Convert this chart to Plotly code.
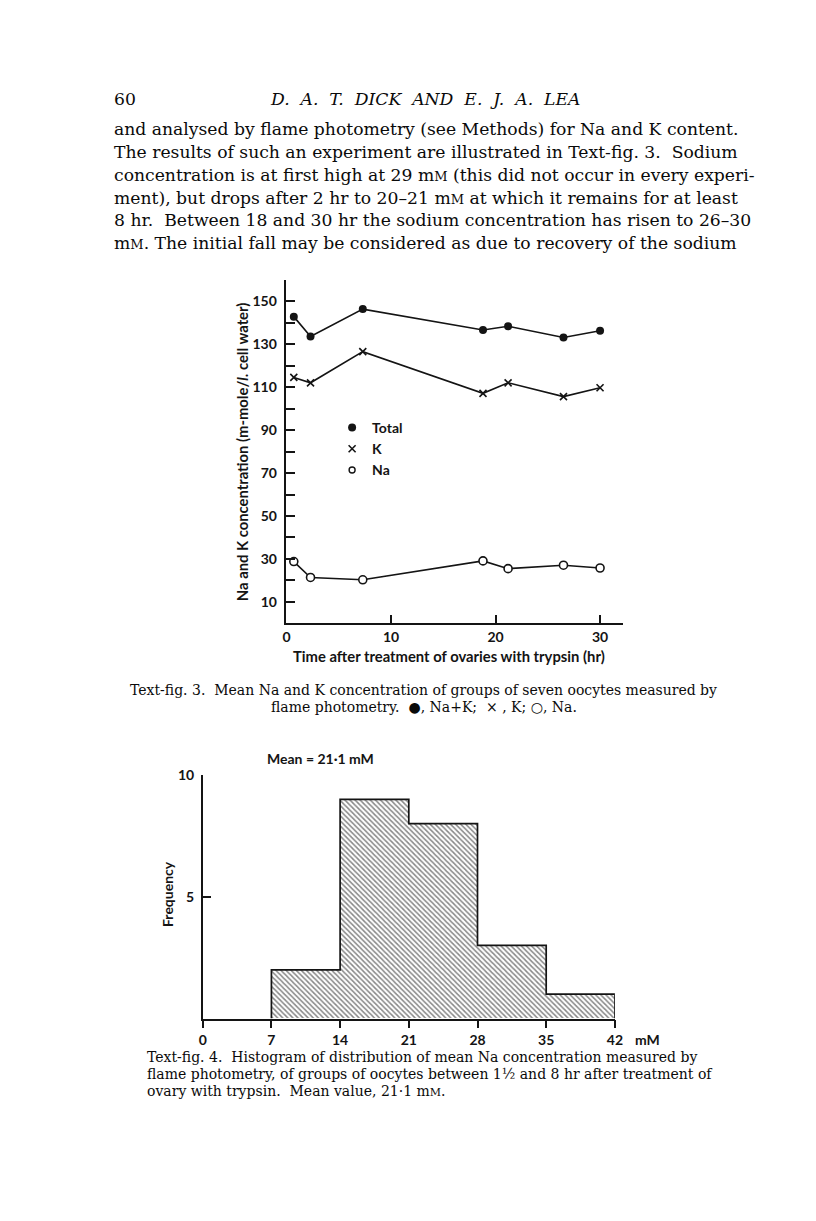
import plotly.graph_objects as go

# ---------------- data ----------------
time_hr = [0.7, 2.3, 7.3, 18.8, 21.2, 26.5, 30.0]
total_conc = [142.8, 133.6, 146.3, 136.6, 138.3, 133.1, 136.2]
k_conc = [114.5, 112.0, 126.5, 107.1, 112.0, 105.6, 109.7]
na_conc = [28.8, 21.4, 20.3, 29.1, 25.5, 27.1, 25.8]

bin_edges = [0, 7, 14, 21, 28, 35, 42]
bin_freq = [0, 2, 9, 8, 3, 1]

fig3_y_ticks = [10, 20, 30, 40, 50, 60, 70, 80, 90, 100, 110, 120, 130, 140, 150]
fig3_y_labels = ["10", "", "30", "", "50", "", "70", "", "90", "", "110", "", "130", "", "150"]
fig3_x_ticks = [0, 10, 20, 30]
fig4_y_ticks = [5, 10]

SC = "<span style='font-size:13px'>M</span>"
header_num = "60"
header_title = "D.  A.  T.  DICK  AND  E.  J.  A.  LEA"
body_lines = [
    "and analysed by flame photometry (see Methods) for Na and K content.",
    "The results of such an experiment are illustrated in Text-fig. 3.  Sodium",
    "concentration is at first high at 29 m" + SC + " (this did not occur in every experi-",
    "ment), but drops after 2 hr to 20\u201321 m" + SC + " at which it remains for at least",
    "8 hr.  Between 18 and 30 hr the sodium concentration has risen to 26\u201330",
    "m" + SC + ". The initial fall may be considered as due to recovery of the sodium",
]
cap3_lines = [
    "Text-fig. 3.  Mean Na and K concentration of groups of seven oocytes measured by",
    "flame photometry.  \u25CF, Na+K;  \u00D7 , K; \u25CB, Na.",
]
cap4_lines = [
    "Text-fig. 4.  Histogram of distribution of mean Na concentration measured by",
    "flame photometry, of groups of oocytes between 1\u00BD and 8 hr after treatment of",
    "ovary with trypsin.  Mean value, 21\u00B71 m<span style='font-size:11px'>M</span>.",
]

W, H = 816, 1221
INK = "#141414"
SANS = "Lato"
SERIF = "DejaVu Serif"


def px(x):
    return x / W


def py(y):
    return 1 - y / H


fig = go.Figure()

# ---------------- Text-fig. 3 ----------------
line_style = dict(color=INK, width=1.6)
fig.add_trace(go.Scatter(x=time_hr, y=total_conc, mode="lines+markers", line=line_style,
                         marker=dict(symbol="circle", size=8, color=INK),
                         showlegend=False, xaxis="x", yaxis="y", cliponaxis=False))
fig.add_trace(go.Scatter(x=time_hr, y=k_conc, mode="lines+markers", line=line_style,
                         marker=dict(symbol="x-thin", size=7, color=INK, line=dict(color=INK, width=1.6)),
                         showlegend=False, xaxis="x", yaxis="y", cliponaxis=False))
fig.add_trace(go.Scatter(x=time_hr, y=na_conc, mode="lines+markers", line=line_style,
                         marker=dict(symbol="circle", size=8, color="white", line=dict(color=INK, width=1.6)),
                         showlegend=False, xaxis="x", yaxis="y", cliponaxis=False))
# legend entries
fig.add_trace(go.Scatter(x=[None], y=[None], mode="markers", name="Total",
                         marker=dict(symbol="circle", size=8, color=INK), xaxis="x", yaxis="y"))
fig.add_trace(go.Scatter(x=[None], y=[None], mode="markers", name="K",
                         marker=dict(symbol="x-thin", size=7, color=INK, line=dict(color=INK, width=1.6)),
                         xaxis="x", yaxis="y"))
fig.add_trace(go.Scatter(x=[None], y=[None], mode="markers", name="Na",
                         marker=dict(symbol="circle", size=6, color="white", line=dict(color=INK, width=1.4)),
                         xaxis="x", yaxis="y"))

# ---------------- Text-fig. 4 ----------------
centers = [(a + b) / 2 for a, b in zip(bin_edges[:-1], bin_edges[1:])]
widths = [b - a for a, b in zip(bin_edges[:-1], bin_edges[1:])]
fig.add_trace(go.Bar(x=centers, y=bin_freq, width=widths,
                     marker=dict(color="white", line=dict(width=0),
                                 pattern=dict(shape="\\", fgcolor=INK, bgcolor="white", size=3.6, solidity=0.45)),
                     showlegend=False, xaxis="x2", yaxis="y2"))
# outline of the histogram (union of bins, stepped)
k0 = next(i for i, f in enumerate(bin_freq) if f > 0)
out_x = [bin_edges[k0]] + bin_edges[k0:-1] + [bin_edges[-1], bin_edges[-1]]
out_y = [0] + bin_freq[k0:] + [bin_freq[-1], 0]
fig.add_trace(go.Scatter(x=out_x, y=out_y, mode="lines", line=dict(color=INK, width=1.7, shape="hv"),
                         showlegend=False, xaxis="x2", yaxis="y2", cliponaxis=False))

tickfont = dict(family=SANS, size=14, color=INK, weight="bold")
axis_common = dict(showgrid=False, zeroline=False, showline=True, linecolor=INK, linewidth=1.6,
                   tickcolor=INK, tickwidth=1.6, tickfont=tickfont)

fig.update_layout(
    width=W, height=H, margin=dict(l=0, r=0, t=0, b=0),
    paper_bgcolor="white", plot_bgcolor="rgba(0,0,0,0)",
    showlegend=True,
    legend=dict(x=px(333), y=py(406), xanchor="left", yanchor="top",
                font=dict(family=SANS, size=14, color=INK, weight="bold"), bgcolor="rgba(0,0,0,0)",
                itemwidth=30, tracegroupgap=0),
    xaxis=dict(domain=[px(286.7), px(628.3)], range=[0, 32.2], anchor="y",
               tickvals=fig3_x_ticks, ticks="inside", ticklen=9, **axis_common),
    yaxis=dict(domain=[py(619), py(272.7)], range=[0, 160], anchor="x",
               tickvals=fig3_y_ticks, ticktext=fig3_y_labels, ticks="inside", ticklen=9,
               ticklabelstandoff=5, **axis_common),
    xaxis2=dict(domain=[px(201.7), px(620)], range=[0, 42], anchor="y2",
                tickvals=bin_edges, ticks="outside", ticklen=8, **axis_common),
    yaxis2=dict(domain=[py(1017), py(771.7)], range=[0, 10], anchor="x2",
                tickvals=fig4_y_ticks, ticks="inside", ticklen=8, ticklabelstandoff=4, **axis_common),
    bargap=0,
)

ann = []
serif_body = dict(family=SERIF, size=17.2, color="#0a0a0a")
ann.append(dict(x=px(110), y=py(91), text=header_num, xanchor="left", yanchor="middle",
                font=serif_body))
ann.append(dict(x=px(427), y=py(91), text="<i>" + header_title + "</i>", xanchor="center",
                yanchor="middle", font=serif_body))
for i, t in enumerate(body_lines):
    ann.append(dict(x=px(110), y=py(121 + 23 * i), text=t, xanchor="left", yanchor="middle",
                    font=serif_body))

cap_font = dict(family=SERIF, size=14, color="#0a0a0a")
ann.append(dict(x=px(426), y=py(686), text=cap3_lines[0], xanchor="center", yanchor="middle", font=cap_font))
ann.append(dict(x=px(426), y=py(703), text=cap3_lines[1], xanchor="center", yanchor="middle", font=cap_font))
for i, t in enumerate(cap4_lines):
    ann.append(dict(x=px(143), y=py(1056 + 17 * i), text=t, xanchor="left", yanchor="middle", font=cap_font))

label_font = dict(family=SANS, size=14.8, color=INK, weight="bold")
ann.append(dict(x=px(241), y=py(446), text="Na and K concentration (m-mole/<i>l</i>. cell water)",
                textangle=-90, xanchor="center", yanchor="middle", font=label_font))
ann.append(dict(x=px(452), y=py(652), text="Time after treatment of ovaries with trypsin (hr)",
                xanchor="center", yanchor="middle", font=label_font))
ann.append(dict(x=px(321), y=py(755), text="Mean = 21\u00B71 mM", xanchor="center", yanchor="middle",
                font=dict(family=SANS, size=14, color=INK, weight="bold")))
ann.append(dict(x=px(166), y=py(892), text="Frequency", textangle=-90, xanchor="center",
                yanchor="middle", font=dict(family=SANS, size=14, color=INK, weight="bold")))
ann.append(dict(x=px(638), y=py(1038), text="mM", xanchor="left", yanchor="middle",
                font=dict(family=SANS, size=14, color=INK, weight="bold")))

for a in ann:
    a.update(xref="paper", yref="paper", showarrow=False)
fig.update_layout(annotations=ann)

fig.write_html("out.html", config={"displayModeBar": False},
               post_script="document.body.style.margin='0';document.body.style.padding='0';"
                           "document.body.style.overflow='hidden';")
